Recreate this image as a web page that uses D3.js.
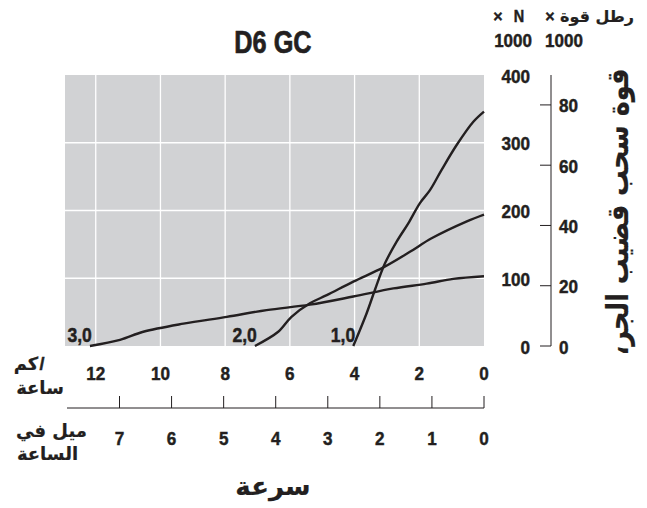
<!DOCTYPE html>
<html>
<head>
<meta charset="utf-8">
<script src="https://cdn.jsdelivr.net/npm/d3@7"></script>
<style>
  body { margin: 0; background: #fff; }
  svg text { font-family: "Liberation Sans", Arial, sans-serif; font-weight: bold; fill: #231f20; stroke: #231f20; stroke-width: 0.45; }
  svg text.ar { font-family: "DejaVu Sans", sans-serif; direction: rtl; unicode-bidi: embed; stroke-width: 0.2; }
</style>
</head>
<body>
<div id="chart"></div>
<script>
// tractive effort curves, km/h vs kN
var gear1 = [[4.04,0],[3.63,48],[3.37,83],[3.06,122],[2.70,154],[2.34,181],[1.98,211],[1.67,230],[1.31,260],[0.84,297],[0.33,331],[0,346]]
var gear2 = [[7.08,0],[6.36,21],[5.95,43],[5.38,63],[4.86,75],[4.04,95],[3.11,116],[2.29,139],[1.62,159],[0.53,184],[0,194]]
var gear3 = [[12.18,0],[11.25,9],[10.53,21],[9.29,33],[7.95,43],[6.72,53],[5.38,61],[4.04,73],[2.80,85],[1.77,92],[0.95,99],[0,103]]
var gearLabels = ["1,0", "2,0", "3,0"]

var kmhTicks = [0, 2, 4, 6, 8, 10, 12]
var mphTicks = [0, 1, 2, 3, 4, 5, 6, 7]
var kNTicks = [0, 100, 200, 300, 400]
var lbfTicks = [0, 20, 40, 60, 80]

var width = 647, height = 508
var plot = {left: 65, right: 484, top: 75, bottom: 346}

var svg = d3.select("#chart").append("svg")
    .attr("width", width)
    .attr("height", height)

var x = d3.scaleLinear().domain([0, 12.95]).range([plot.right, plot.left])
var xMph = d3.scaleLinear().domain([0, 12.95 / 1.609344]).range([plot.right, plot.left])
var y = d3.scaleLinear().domain([0, 400]).range([plot.bottom, plot.top])
var yLb = d3.scaleLinear().domain([0, 400 / 4.448]).range([plot.bottom, plot.top])

// squeeze text horizontally, the original uses a condensed face
function condense(sel, f) {
    sel.each(function() {
        var w = this.getComputedTextLength()
        this.setAttribute("textLength", w * f)
        this.setAttribute("lengthAdjust", "spacingAndGlyphs")
    })
}

// background + grid
svg.append("rect")
    .attr("x", plot.left).attr("y", plot.top)
    .attr("width", plot.right - plot.left)
    .attr("height", plot.bottom - plot.top)
    .attr("fill", "#d1d2d4")

svg.selectAll(".vgrid").data(kmhTicks.filter(function(d) { return d > 0 }))
    .enter().append("line")
    .attr("class", "vgrid")
    .attr("x1", function(d) { return x(d) }).attr("x2", function(d) { return x(d) })
    .attr("y1", plot.top).attr("y2", plot.bottom)
    .attr("stroke", "#fff").attr("stroke-width", 1.3)

svg.selectAll(".hgrid").data([100, 200, 300])
    .enter().append("line")
    .attr("class", "hgrid")
    .attr("x1", plot.left).attr("x2", plot.right)
    .attr("y1", function(d) { return y(d) }).attr("y2", function(d) { return y(d) })
    .attr("stroke", "#fff").attr("stroke-width", 1.3)

// curves
var line = d3.line()
    .x(function(d) { return x(d[0]) })
    .y(function(d) { return y(d[1]) })
    .curve(d3.curveCatmullRom)

var gears = [gear1, gear2, gear3]
svg.selectAll(".gear").data(gears)
    .enter().append("path")
    .attr("class", "gear")
    .attr("d", line)
    .attr("fill", "none")
    .attr("stroke", "#231f20")
    .attr("stroke-width", 2.4)

svg.selectAll(".glabel").data(gears)
    .enter().append("text")
    .attr("class", "glabel")
    .attr("x", function(d) { return x(d[0][0]) + 2 })
    .attr("y", 342)
    .attr("text-anchor", "end")
    .attr("font-size", 20)
    .text(function(d, i) { return gearLabels[i] })
    .call(condense, 0.88)

// title
svg.append("text")
    .attr("x", 273).attr("y", 53)
    .attr("text-anchor", "middle")
    .attr("font-size", 32)
    .style("stroke-width", 0.7)
    .text("D6 GC")
    .call(condense, 0.79)

// left kN axis labels (between plot and lbf axis)
svg.selectAll(".kn").data(kNTicks)
    .enter().append("text")
    .attr("class", "kn")
    .attr("x", 530)
    .attr("y", function(d) { return y(d) + 7.5 })
    .attr("text-anchor", "end")
    .attr("font-size", 19)
    .text(function(d) { return d })
    .call(condense, 0.9)

// lbf axis
var axisX = 551
svg.append("line")
    .attr("x1", axisX).attr("x2", axisX)
    .attr("y1", plot.top).attr("y2", yLb(0))
    .attr("stroke", "#231f20").attr("stroke-width", 1)

svg.selectAll(".lbtick").data(lbfTicks)
    .enter().append("line")
    .attr("class", "lbtick")
    .attr("x1", axisX - 11).attr("x2", axisX)
    .attr("y1", function(d) { return yLb(d) }).attr("y2", function(d) { return yLb(d) })
    .attr("stroke", "#231f20").attr("stroke-width", 1)

svg.selectAll(".lb").data(lbfTicks)
    .enter().append("text")
    .attr("class", "lb")
    .attr("x", 559)
    .attr("y", function(d) { return yLb(d) + 7.5 })
    .attr("font-size", 19)
    .text(function(d) { return d })
    .call(condense, 0.9)

// unit headers
svg.append("text").attr("x", 498).attr("y", 22).attr("text-anchor", "middle").attr("font-size", 16).text("×")
svg.append("text").attr("x", 519).attr("y", 22).attr("text-anchor", "middle").attr("font-size", 16).text("N").call(condense, 0.9)
svg.append("text").attr("x", 532).attr("y", 47).attr("text-anchor", "end").attr("font-size", 18.5).text("1000").call(condense, 0.92)
svg.append("text").attr("x", 550).attr("y", 22).attr("text-anchor", "middle").attr("font-size", 16).text("×")
svg.append("text").attr("class", "ar").attr("x", 597).attr("y", 22).attr("text-anchor", "middle").attr("font-size", 16).text("رطل قوة")
svg.append("text").attr("x", 545).attr("y", 47).attr("font-size", 18.5).text("1000").call(condense, 0.92)

// vertical title
svg.append("text")
    .attr("class", "ar")
    .attr("transform", "translate(628,212) rotate(-90)")
    .attr("text-anchor", "middle")
    .attr("font-size", 30)
    .attr("textLength", 287)
    .attr("lengthAdjust", "spacingAndGlyphs")
    .text("قوة سحب قضيب الجر،")

// km/h labels
svg.selectAll(".kmh").data(kmhTicks)
    .enter().append("text")
    .attr("class", "kmh")
    .attr("x", function(d) { return x(d) })
    .attr("y", 380)
    .attr("text-anchor", "middle")
    .attr("font-size", 19)
    .text(function(d) { return d })
    .call(condense, 0.9)

// mph axis
var mphY = 408
svg.append("line")
    .attr("x1", 67).attr("x2", plot.right)
    .attr("y1", mphY).attr("y2", mphY)
    .attr("stroke", "#231f20").attr("stroke-width", 1)

svg.selectAll(".mtick").data(mphTicks)
    .enter().append("line")
    .attr("class", "mtick")
    .attr("x1", function(d) { return xMph(d) }).attr("x2", function(d) { return xMph(d) })
    .attr("y1", mphY - 12).attr("y2", mphY)
    .attr("stroke", "#231f20").attr("stroke-width", 1)

svg.selectAll(".mph").data(mphTicks)
    .enter().append("text")
    .attr("class", "mph")
    .attr("x", function(d) { return xMph(d) })
    .attr("y", 445)
    .attr("text-anchor", "middle")
    .attr("font-size", 19)
    .text(function(d) { return d })
    .call(condense, 0.9)

// unit labels on the left (left aligned at x=15)
var unitLabels = [["كم", 26, 370], ["ساعة", 40, 394], ["ميل في", 51.5, 437], ["الساعة", 47.5, 460]]
svg.selectAll(".unit").data(unitLabels)
    .enter().append("text")
    .attr("class", "ar unit")
    .attr("x", function(d) { return d[1] })
    .attr("y", function(d) { return d[2] })
    .attr("text-anchor", "middle")
    .attr("font-size", 18)
    .text(function(d) { return d[0] })
svg.append("text").attr("x", 42).attr("y", 370).attr("text-anchor", "middle").attr("font-size", 18).text("/")

// x title
svg.append("text")
    .attr("class", "ar")
    .attr("x", 273).attr("y", 495)
    .attr("text-anchor", "middle")
    .attr("font-size", 26)
    .text("سرعة")
</script>
</body>
</html>
